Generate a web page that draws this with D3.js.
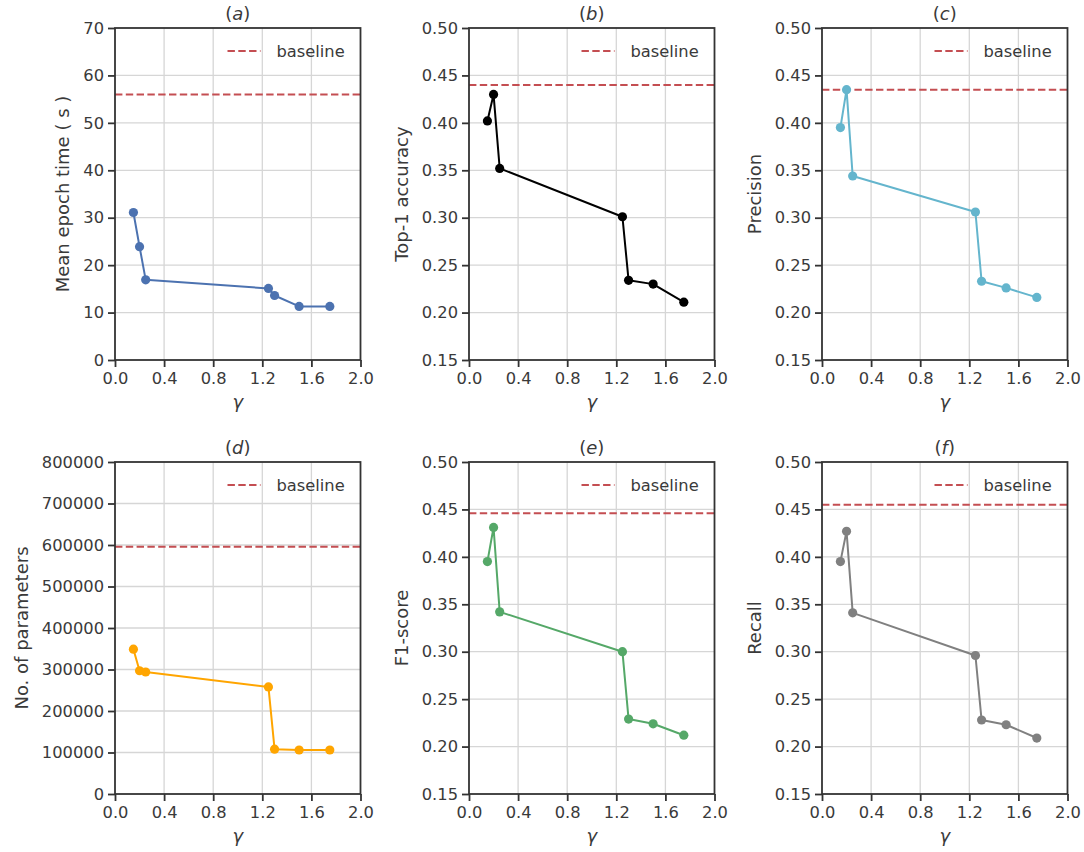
<!DOCTYPE html>
<html>
<head>
<meta charset="utf-8">
<script src="https://cdn.jsdelivr.net/npm/d3@7"></script>
<style>
  html, body { margin: 0; padding: 0; background: #fff; }
  svg { display: block; font-family: "DejaVu Sans", sans-serif; }
</style>
</head>
<body>
<svg id="chart" width="1084" height="852"></svg>
<script>
// γ values shared by every panel
const gamma = [0.15, 0.2, 0.25, 1.25, 1.3, 1.5, 1.75];

// metric series
const epochTime    = [31.1, 23.9, 16.9, 15.1, 13.6, 11.3, 11.3];
const top1Accuracy = [0.402, 0.430, 0.352, 0.301, 0.234, 0.230, 0.211];
const precision    = [0.395, 0.435, 0.344, 0.306, 0.233, 0.226, 0.216];
const numParams    = [349000, 297000, 294000, 258000, 108000, 106000, 106000];
const f1Score      = [0.395, 0.431, 0.342, 0.300, 0.229, 0.224, 0.212];
const recall       = [0.395, 0.427, 0.341, 0.296, 0.228, 0.223, 0.209];

// baseline reference per panel (a)..(f)
const baselineValues = [56, 0.44, 0.435, 596000, 0.446, 0.455];

// tick labels
const xTicks = [0, 0.4, 0.8, 1.2, 1.6, 2.0];
const yTicksTime = [0, 10, 20, 30, 40, 50, 60, 70];
const yTicksScore = [0.15, 0.20, 0.25, 0.30, 0.35, 0.40, 0.45, 0.50];
const yTicksParams = [0, 100000, 200000, 300000, 400000, 500000, 600000, 700000, 800000];

const panelLetters = ["a", "b", "c", "d", "e", "f"];
const yLabels = ["Mean epoch time ( s )", "Top-1 accuracy", "Precision",
                 "No. of parameters", "F1-score", "Recall"];
const seriesList = [epochTime, top1Accuracy, precision, numParams, f1Score, recall];
const colors = ["#4c72b0", "#000000", "#64b5cd", "#ffa500", "#55a868", "#808080"];
const yTickSets = [yTicksTime, yTicksScore, yTicksScore, yTicksParams, yTicksScore, yTicksScore];

const svg = d3.select("#chart");
const textColor = "#3a3a3a";
const spineColor = "#333333";
const gridColor = "#d6d6d6";
const baseColor = "#c44e52";
const tickFont = 16.3;
const labelFont = 18;

const colLeft = [115, 469, 822];
const rowTop = [28, 462];
const plotW = 245.5, plotH = 332;

panelLetters.forEach((letter, i) => {
  const col = i % 3, row = Math.floor(i / 3);
  const x0 = colLeft[col], y0 = rowTop[row];
  const ticks = yTickSets[i];
  const xs = d3.scaleLinear().domain([0, 2]).range([x0, x0 + plotW]);
  const ys = d3.scaleLinear().domain([ticks[0], ticks[ticks.length - 1]]).range([y0 + plotH, y0]);
  const g = svg.append("g");

  // grid
  g.append("g").selectAll("line").data(xTicks.slice(1, -1)).join("line")
    .attr("x1", d => xs(d)).attr("x2", d => xs(d))
    .attr("y1", y0).attr("y2", y0 + plotH)
    .attr("stroke", gridColor).attr("stroke-width", 1.3);
  g.append("g").selectAll("line").data(ticks.slice(1, -1)).join("line")
    .attr("x1", x0).attr("x2", x0 + plotW)
    .attr("y1", d => ys(d)).attr("y2", d => ys(d))
    .attr("stroke", gridColor).attr("stroke-width", 1.3);

  // baseline
  g.append("line")
    .attr("x1", x0).attr("x2", x0 + plotW)
    .attr("y1", ys(baselineValues[i])).attr("y2", ys(baselineValues[i]))
    .attr("stroke", baseColor).attr("stroke-width", 2)
    .attr("stroke-dasharray", "7.4,3.4");

  // series
  const pts = gamma.map((gv, k) => [gv, seriesList[i][k]]);
  g.append("path").datum(pts)
    .attr("fill", "none").attr("stroke", colors[i]).attr("stroke-width", 2)
    .attr("stroke-linejoin", "round")
    .attr("d", d3.line().x(d => xs(d[0])).y(d => ys(d[1])));
  g.append("g").selectAll("circle").data(pts).join("circle")
    .attr("cx", d => xs(d[0])).attr("cy", d => ys(d[1])).attr("r", 4.6)
    .attr("fill", colors[i]);

  // axes
  const fmtY = i === 0 || i === 3 ? d3.format("d") : d3.format(".2f");
  const yAxis = d3.axisLeft(ys).tickValues(ticks).tickFormat(fmtY).tickSize(7).tickPadding(4);
  const xAxis = d3.axisBottom(xs).tickValues(xTicks).tickFormat(d3.format(".1f")).tickSize(7).tickPadding(5);
  const ga = g.append("g").attr("transform", `translate(${x0},0)`).call(yAxis);
  const gb = g.append("g").attr("transform", `translate(0,${y0 + plotH})`).call(xAxis);
  [ga, gb].forEach(ax => {
    ax.select(".domain").remove();
    ax.selectAll("line").attr("stroke", spineColor).attr("stroke-width", 1.8);
    ax.selectAll("text").attr("fill", textColor).attr("font-size", tickFont)
      .attr("font-family", "DejaVu Sans, sans-serif");
  });

  // frame
  g.append("rect").attr("x", x0).attr("y", y0).attr("width", plotW).attr("height", plotH)
    .attr("fill", "none").attr("stroke", spineColor).attr("stroke-width", 1.8);

  // legend
  const lx = x0 + plotW - 133, ly = y0 + 23;
  g.append("line").attr("x1", lx).attr("x2", lx + 33).attr("y1", ly).attr("y2", ly)
    .attr("stroke", baseColor).attr("stroke-width", 2).attr("stroke-dasharray", "7.4,3.4");
  g.append("text").attr("x", lx + 49).attr("y", ly).attr("dy", "0.35em")
    .attr("fill", textColor).attr("font-size", tickFont).text("baseline");

  // title
  const t = g.append("text").attr("x", x0 + plotW / 2).attr("y", y0 - 8)
    .attr("text-anchor", "middle").attr("fill", textColor).attr("font-size", labelFont);
  t.append("tspan").text("(");
  t.append("tspan").attr("font-style", "italic").text(letter);
  t.append("tspan").text(")");

  // x label
  g.append("text").attr("x", x0 + plotW / 2).attr("y", y0 + plotH + 48)
    .attr("text-anchor", "middle").attr("fill", textColor).attr("font-size", labelFont)
    .attr("font-style", "italic").text("γ");

  // y label, placed clear of the widest tick label
  let tickLeft = x0;
  ga.selectAll("text").each(function () {
    const b = this.getBBox();
    const ctm = this.getCTM();
    tickLeft = Math.min(tickLeft, b.x + ctm.e);
  });
  const ylx = tickLeft - 20.5;
  g.append("text")
    .attr("transform", `translate(${ylx},${y0 + plotH / 2}) rotate(-90)`)
    .attr("text-anchor", "middle").attr("dy", "0.35em")
    .attr("fill", textColor).attr("font-size", labelFont).text(yLabels[i]);
});
</script>
</body>
</html>
